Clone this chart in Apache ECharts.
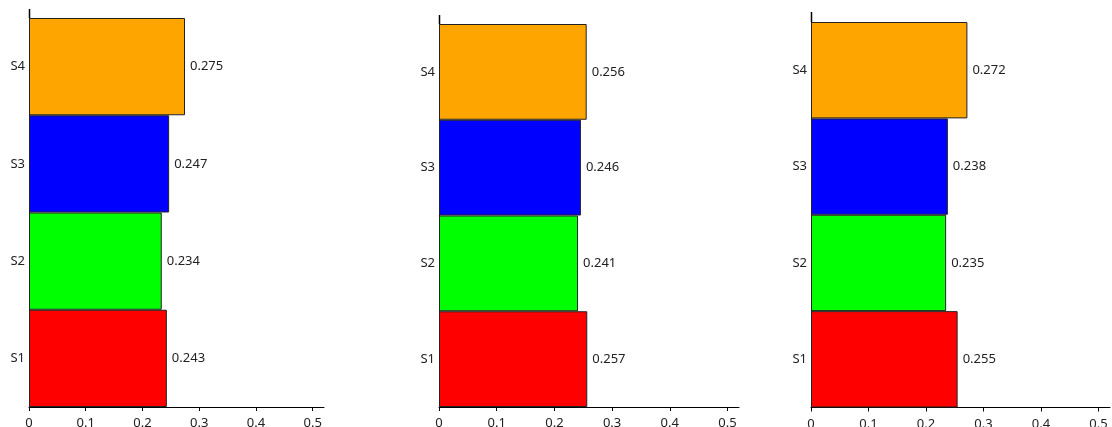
<!DOCTYPE html>
<html>
<head>
<meta charset="utf-8">
<script src="https://cdn.jsdelivr.net/npm/echarts@6/dist/echarts.min.js"></script>
<style>
html,body{margin:0;padding:0;background:#fff;}
#c{width:1112px;height:427px;}
</style>
</head>
<body>
<div id="c"></div>
<script>
const categories = ['S1', 'S2', 'S3', 'S4'];
const colors = ['#FF0000', '#00FF00', '#0000FF', '#FFA500'];
const panel1 = [0.243, 0.234, 0.247, 0.275];
const panel2 = [0.257, 0.241, 0.246, 0.256];
const panel3 = [0.255, 0.235, 0.238, 0.272];
const xTicks = [0, 0.1, 0.2, 0.3, 0.4, 0.5];
const xMax = 0.52;

const panels = [panel1, panel2, panel3];
const grids = [
  {left: 29, top: 18, width: 295, height: 389, outerBoundsMode: 'none', containLabel: false},
  {left: 439, top: 24, width: 300, height: 383, outerBoundsMode: 'none', containLabel: false},
  {left: 811, top: 22, width: 299, height: 385.5, outerBoundsMode: 'none', containLabel: false}
];
const stubs = [9, 9, 10];
const font = "'Noto Sans', sans-serif";

const option = {
  animation: false,
  backgroundColor: '#fff',
  grid: grids,
  xAxis: grids.map((g, i) => ({
    type: 'value', gridIndex: i, min: 0, max: xMax,
    splitLine: {show: false},
    axisLine: {show: true, lineStyle: {color: '#000', width: 1}},
    axisTick: {show: true, length: 4, lineStyle: {color: '#000'}, customValues: xTicks},
    axisLabel: {color: '#222', fontSize: 13, fontFamily: font, margin: 10, customValues: xTicks,
      formatter: v => String(v)}
  })),
  yAxis: grids.map((g, i) => ({
    type: 'category', gridIndex: i, data: categories,
    axisLine: {show: true, lineStyle: {color: '#000', width: 1}},
    axisTick: {show: false},
    axisLabel: {color: '#222', fontSize: 13, fontFamily: font, margin: 4}
  })),
  series: panels.map((vals, i) => ({
    type: 'bar', xAxisIndex: i, yAxisIndex: i,
    barCategoryGap: '0%',
    data: vals.map((v, j) => ({value: v, itemStyle: {color: colors[j]}})),
    itemStyle: {borderColor: '#222', borderWidth: 1},
    label: {show: true, position: 'right', distance: 5, color: '#222', fontSize: 13, fontFamily: font,
      formatter: p => p.value.toFixed(3)}
  })),
  graphic: grids.map((g, i) => ({
    type: 'line', silent: true,
    shape: {x1: g.left + 0.5, y1: g.top - stubs[i], x2: g.left + 0.5, y2: g.top},
    style: {stroke: '#000', lineWidth: 1.5}
  }))
};

const chart = echarts.init(document.getElementById('c'));
chart.setOption(option);
</script>
</body>
</html>
